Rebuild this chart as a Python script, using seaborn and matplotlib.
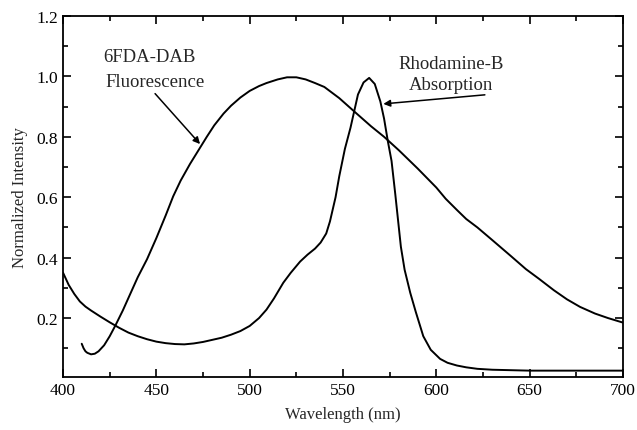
import numpy as np
import pandas as pd
import matplotlib
matplotlib.use("Agg")
import matplotlib.pyplot as plt
import seaborn as sns
from matplotlib.ticker import MultipleLocator, FixedLocator

# 6FDA-DAB fluorescence
fl_wl = [410, 411, 412, 413, 415, 417, 419, 422, 425, 428, 432, 436, 440, 445,
         450, 455, 459, 463, 468, 473, 477, 481, 486, 490, 495, 500, 505, 509,
         515, 520, 525, 530, 535, 540, 548, 556, 565, 572, 580, 590, 600, 605,
         611, 616, 622, 630, 640, 648, 655, 663, 670, 677, 685, 692, 700]
fl_int = [0.115, 0.1, 0.09, 0.085, 0.08, 0.082, 0.09, 0.11, 0.14, 0.175, 0.225,
          0.28, 0.335, 0.395, 0.465, 0.54, 0.603, 0.655, 0.71, 0.76, 0.80,
          0.838, 0.877, 0.903, 0.93, 0.952, 0.968, 0.978, 0.99, 0.997, 0.997,
          0.99, 0.978, 0.965, 0.928, 0.884, 0.835, 0.80, 0.755, 0.695, 0.632,
          0.595, 0.558, 0.528, 0.5, 0.458, 0.405, 0.362, 0.33, 0.292, 0.262,
          0.237, 0.215, 0.2, 0.185]

# Rhodamine-B absorption
ab_wl = [400, 403, 406, 409, 412, 415, 420, 425, 430, 435, 440, 445, 450, 455,
         460, 465, 470, 475, 480, 485, 490, 495, 500, 505, 509, 513, 518, 522,
         527, 531, 535, 538, 541, 543, 546, 548, 551, 554, 556, 558, 561, 564,
         567, 570, 572, 574, 576, 578, 581, 583, 586, 589, 593, 597, 602, 606,
         611, 616, 622, 630, 650, 675, 700]
ab_int = [0.35, 0.31, 0.28, 0.255, 0.238, 0.225, 0.205, 0.186, 0.168, 0.152,
          0.14, 0.13, 0.122, 0.117, 0.114, 0.113, 0.116, 0.121, 0.128, 0.135,
          0.145, 0.157, 0.174, 0.2, 0.228, 0.265, 0.317, 0.35, 0.387, 0.41,
          0.43, 0.45, 0.48, 0.52, 0.6, 0.67, 0.76, 0.83, 0.885, 0.94, 0.98,
          0.995, 0.975, 0.917, 0.86, 0.786, 0.72, 0.61, 0.436, 0.36, 0.284,
          0.22, 0.14, 0.095, 0.065, 0.052, 0.043, 0.037, 0.032, 0.029, 0.026,
          0.026, 0.026]

x_ticks = [400, 450, 500, 550, 600, 650, 700]
y_ticks = [0.2, 0.4, 0.6, 0.8, 1.0, 1.2]

df = pd.concat([
    pd.DataFrame({"wl": fl_wl, "val": fl_int, "series": "Fluorescence"}),
    pd.DataFrame({"wl": ab_wl, "val": ab_int, "series": "Absorption"}),
])

sns.set_style("ticks")
plt.rcParams["font.family"] = ["Liberation Serif", "DejaVu Serif"]

fig = plt.figure(figsize=(6.37, 4.31), dpi=100)
ax = fig.add_axes([0.099, 0.123, 0.879, 0.8376])

sns.lineplot(data=df, x="wl", y="val", units="series", estimator=None,
             color="black", linewidth=1.4, ax=ax, legend=False, sort=False)

ax.set_xlim(400, 700)
ax.set_ylim(0.005, 1.2)
ax.xaxis.set_major_locator(FixedLocator(x_ticks))
ax.xaxis.set_minor_locator(MultipleLocator(25))
ax.yaxis.set_major_locator(FixedLocator(y_ticks))
ax.yaxis.set_minor_locator(FixedLocator([0.1, 0.3, 0.5, 0.7, 0.9, 1.1]))
ax.set_xticklabels([str(v) for v in x_ticks])
ax.set_yticklabels([f"{v:.1f}" for v in y_ticks])
ax.tick_params(which="both", direction="in", top=True, right=True,
               labelsize=12.5, colors="black", width=1.2)
ax.tick_params(which="major", length=6)
ax.tick_params(which="minor", length=3.5)
for s in ax.spines.values():
    s.set_linewidth(1.3)
    s.set_color("black")

ax.set_xlabel("Wavelength (nm)", fontsize=12, labelpad=6)
ax.set_ylabel("Normalized Intensity", fontsize=12, labelpad=6)

ax.text(421.5, 1.065, "6FDA-DAB", fontsize=13.5, va="center", ha="left")
ax.text(422.5, 0.983, "Fluorescence", fontsize=13.5, va="center", ha="left")
ax.annotate("", xy=(473.4, 0.776), xytext=(449.3, 0.943),
            arrowprops=dict(arrowstyle="-|>", color="black", lw=1.1,
                            mutation_scale=10, shrinkA=0, shrinkB=0))

ax.text(608, 1.042, "Rhodamine-B", fontsize=13.5, va="center", ha="center")
ax.text(608, 0.973, "Absorption", fontsize=13.5, va="center", ha="center")
ax.annotate("", xy=(571.6, 0.909), xytext=(626, 0.939),
            arrowprops=dict(arrowstyle="-|>", color="black", lw=1.1,
                            mutation_scale=10, shrinkA=0, shrinkB=0))

fig.savefig("out.png", dpi=100)
